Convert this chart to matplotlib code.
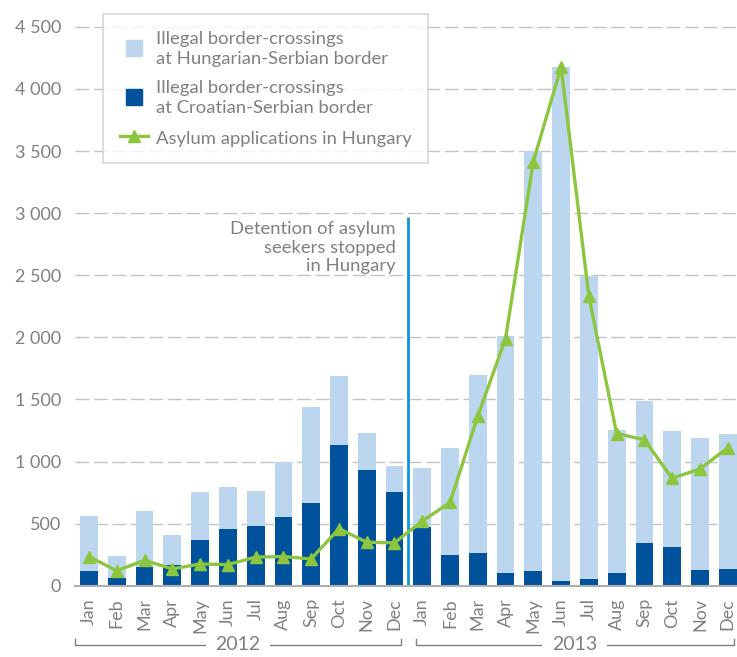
import matplotlib
matplotlib.use('Agg')
import matplotlib.pyplot as plt
import numpy as np
from matplotlib.lines import Line2D

months = ['Jan', 'Feb', 'Mar', 'Apr', 'May', 'Jun', 'Jul', 'Aug', 'Sep', 'Oct', 'Nov', 'Dec']
years = ['2012', '2013']
croatian_serbian = [120, 60, 150, 170, 365, 455, 480, 555, 665, 1130, 930, 755,
                    475, 250, 260, 100, 120, 35, 55, 100, 345, 310, 125, 135]
hungarian_serbian = [440, 180, 455, 235, 390, 340, 280, 445, 775, 560, 300, 205,
                     470, 860, 1440, 1910, 3380, 4145, 2435, 1150, 1145, 935, 1065, 1090]
asylum_hungary = [235, 120, 205, 135, 175, 170, 230, 235, 215, 460, 350, 345,
                  520, 670, 1365, 1990, 3415, 4175, 2330, 1225, 1175, 865, 940, 1110]
yticks = [0, 500, 1000, 1500, 2000, 2500, 3000, 3500, 4000, 4500]
detention_value = 2965
annotation = 'Detention of asylum\nseekers stopped\nin Hungary'
legend_labels = ['Illegal border-crossings\nat Hungarian-Serbian border',
                 'Illegal border-crossings\nat Croatian-Serbian border',
                 'Asylum applications in Hungary']

LIGHT = '#bcd6ef'
DARK = '#00529c'
GREEN = '#8cc63f'
VBLUE = '#1195d6'
GRAY = '#808080'

plt.rcParams['font.family'] = ['Lato', 'DejaVu Sans']

W, H = 737, 657
fig = plt.figure(figsize=(W / 100, H / 100), dpi=100)
slot = 27.77
left_px = 89 - slot / 2
bottom_px = H - 585.7
ppu = 0.1242
ymax = 4600
ax = fig.add_axes([left_px / W, bottom_px / H, 24 * slot / W, ymax * ppu / H])

x = np.arange(len(croatian_serbian))
ax.bar(x, croatian_serbian, width=0.64, color=DARK, zorder=3)
ax.bar(x, hungarian_serbian, width=0.64, bottom=croatian_serbian, color=LIGHT, zorder=3)
ax.plot(x, asylum_hungary, color=GREEN, lw=2.4, marker='^', ms=8, zorder=5)

ax.vlines(11.5, 0, detention_value, color=VBLUE, lw=2.0, zorder=4)
ax.text(11.05, detention_value - 30, annotation, ha='right', va='top', fontsize=13.3,
        color=GRAY, linespacing=1.2, zorder=6)

ax.set_xlim(-0.5, 23.5)
ax.set_ylim(0, ymax)
ax.set_yticks(yticks)
ax.set_yticklabels([f'{v:,}'.replace(',', ' ') for v in yticks])
ax.set_xticks(x)
ax.set_xticklabels(months * 2, rotation=90)
ax.tick_params(axis='both', length=0, labelsize=13, labelcolor=GRAY)
ax.tick_params(axis='y', pad=10)
ax.tick_params(axis='x', pad=9)
for ytk in yticks[1:]:
    ax.axhline(ytk, color='#c4c4c4', lw=1.0, dashes=(10, 3.3), zorder=1)
for s in ['top', 'right', 'left']:
    ax.spines[s].set_visible(False)
ax.spines['bottom'].set_color('#b0b0b0')
ax.spines['bottom'].set_linewidth(1.5)
ax.spines['bottom'].set_zorder(6)

# year brackets
trans = ax.get_xaxis_transform()
yb = (585.7 - 645) / (ymax * ppu)
yt = (585.7 - 639) / (ymax * ppu)
for yr, (x0, x1) in zip(years, [(-0.5, 11.24), (11.76, 23.23)]):
    ax.plot([x0, x0, x1, x1], [yt, yb, yb, yt], transform=trans, color=GRAY,
            lw=1.0, clip_on=False)
    ax.text((x0 + x1) / 2, yb, yr, transform=trans, ha='center', va='center',
            fontsize=14, color=GRAY, clip_on=False,
            bbox=dict(facecolor='white', edgecolor='none', pad=7))

handles = [Line2D([], [], ls='none', marker='s', ms=11.5, color=LIGHT),
           Line2D([], [], ls='none', marker='s', ms=11.5, color=DARK),
           Line2D([], [], color=GREEN, lw=2.4, marker='^', ms=8)]
leg = fig.legend(handles, legend_labels, loc='upper left',
                 bbox_to_anchor=(103 / W, 1 - 14 / H), bbox_transform=fig.transFigure,
                 frameon=True, fancybox=False, fontsize=13.3, labelcolor=GRAY,
                 handlelength=1.55, handleheight=1.0, handletextpad=0.4,
                 borderpad=0.9, labelspacing=0.72, borderaxespad=0)
for t in leg.get_texts():
    t.set_linespacing(1.3)
leg.get_frame().set_edgecolor('#cccccc')
leg.get_frame().set_linewidth(1.2)
leg.set_zorder(10)

fig.savefig('out.png', dpi=100)
